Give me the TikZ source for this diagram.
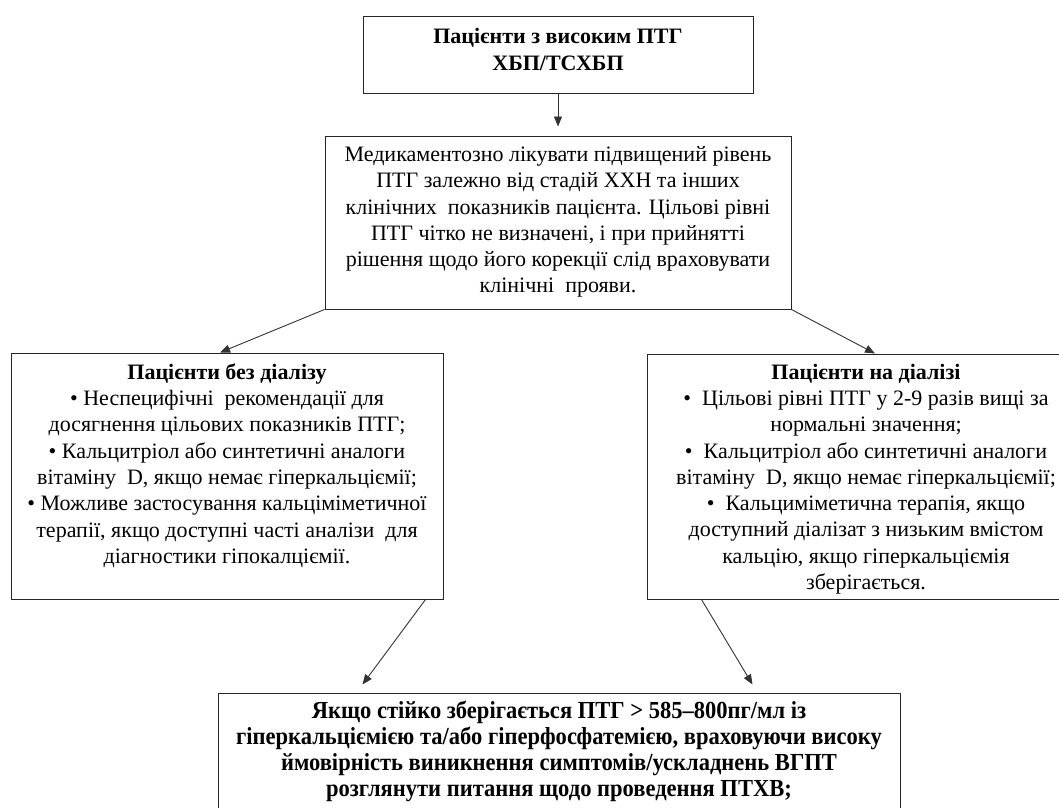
\documentclass[tikz,border=0pt]{standalone}
\usepackage{fontspec}
\setmainfont{Liberation Serif}
\newfontfamily\condfont[FakeStretch=0.92]{Liberation Serif}
\usetikzlibrary{arrows.meta}
\begin{document}
\begin{tikzpicture}[x=1pt,y=-1pt,
  box/.style={draw=black!85,line width=1pt,rectangle,inner sep=0pt},
  txt/.style={inner sep=0pt,align=center,font=\fontsize{22}{26.3}\selectfont},
  conn/.style={draw=black!80,line width=0.9pt,-{Triangle[length=10pt,width=8pt]}}]
\useasboundingbox (0,0) rectangle (1059,807);
% boxes
\node[box,minimum width=390pt,minimum height=77pt] (top) at (558,54.5) {};
\node[box,minimum width=466pt,minimum height=173pt] (mid) at (558,222.5) {};
\node[box,minimum width=432pt,minimum height=246pt] (left) at (227,476) {};
\node[box,minimum width=452pt,minimum height=245pt] (right) at (873,476.5) {};
\node[box,minimum width=682pt,minimum height=160pt] (bot) at (559,773) {};
% texts
\node[txt,font=\fontsize{22}{27}\selectfont\bfseries] (toptext) at (558,49) {Пацієнти з високим ПТГ\\ХБП/ТСХБП};
\node[txt] (midtext) at (558,222) {Медикаментозно лікувати підвищений рівень\\
ПТГ залежно від стадій ХХН та інших\\
клінічних\ \ показників пацієнта. Цільові рівні\\
ПТГ чітко не визначені, і при прийнятті\\
рішення щодо його корекції слід враховувати\\
клінічні\ \ прояви.};
\node[txt] (lefttext) at (227,465.5) {\textbf{Пацієнти без діалізу}\\
• Неспецифічні\ \ рекомендації для\\
досягнення цільових показників ПТГ;\\
• Кальцитріол або синтетичні аналоги\\
вітаміну\ \ D, якщо немає гіперкальціємії;\\
• Можливе застосування кальціміметичної\\
терапії, якщо доступні часті аналізи\ \ для\\
діагностики гіпокалціємії.};
\node[txt] (righttext) at (866,479) {\textbf{Пацієнти на діалізі}\\
•\ \ Цільові рівні ПТГ у 2-9 разів вищі за\\
нормальні значення;\\
•\ \ Кальцитріол або синтетичні аналоги\\
вітаміну\ \ D, якщо немає гіперкальціємії;\\
•\ \ Кальциміметична терапія, якщо\\
доступний діалізат з низьким вмістом\\
кальцію, якщо гіперкальціємія\\
зберігається.};
\node[txt,font=\fontsize{24.5}{26}\condfont\bfseries] (bottext) at (559,751) {Якщо стійко зберігається ПТГ > 585–800пг/мл із\\
гіперкальціємією та/або гіперфосфатемією, враховуючи високу\\
ймовірність виникнення симптомів/ускладнень ВГПТ\\
розглянути питання щодо проведення ПТХВ;};
% connectors
\draw[conn,shorten >=9pt] (top.south) -- (mid.north);
\draw[conn] (mid.south west) -- ([xshift=-7pt]left.north);
\draw[conn] (mid.south east) -- ([xshift=2pt]right.north);
\draw[conn] ([xshift=-18pt]left.south east) -- ([xshift=145pt,yshift=8pt]bot.north west);
\draw[conn] ([xshift=55pt]right.south west) -- ([xshift=535pt,yshift=8pt]bot.north west);
\end{tikzpicture}
\end{document}
